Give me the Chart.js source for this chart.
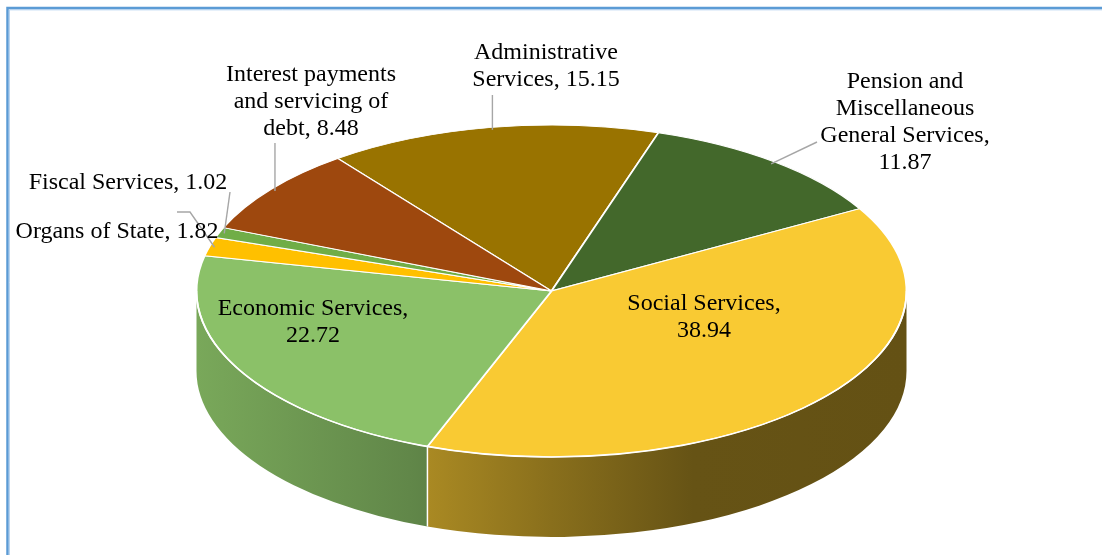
<!DOCTYPE html>
<html>
<head>
<meta charset="utf-8">
<script src="https://cdn.jsdelivr.net/npm/chart.js@4.4.1/dist/chart.umd.min.js"></script>
<style>
  html, body { margin: 0; padding: 0; background: #fff; }
  #wrap { width: 1102px; height: 555px; }
</style>
</head>
<body>
<div id="wrap"><canvas id="pie" width="1102" height="555"></canvas></div>
<script>
// expenditure shares, clockwise from the top
var categories = [
    'Administrative Services',
    'Pension and Miscellaneous General Services',
    'Social Services',
    'Economic Services',
    'Organs of State',
    'Fiscal Services',
    'Interest payments and servicing of debt'
];
var shares = [15.15, 11.87, 38.94, 22.72, 1.82, 1.02, 8.48];
var sliceColors = ['#997300', '#43682b', '#f9ca33', '#8bc168', '#ffc000', '#70ad47', '#9e480e'];

// where the flat pie gets squashed to (tilted disc)
var CX = 551.5, CY = 291, RX = 355, RY = 166, DEPTH = 80;

// label boxes: centre x, first line y, wrap width, leader line
var labelSpots = [
    { x: 546, y: 53, wrap: 155, upTo: 95 },
    { x: 905, y: 82, wrap: 180, lead: [[817, 142]] },
    { x: 704, y: 304, wrap: 175 },
    { x: 313, y: 309, wrap: 205 },
    { x: 117, y: 232, wrap: 400, lead: [[190, 212], [177, 212]] },
    { x: 128, y: 183, wrap: 400, lead: [[230, 192]] },
    { x: 311, y: 75, wrap: 180, upTo: 143 }
];

function shade(hex, f) {
    var n = parseInt(hex.slice(1), 16);
    var r = Math.round(((n >> 16) & 255) * f);
    var g = Math.round(((n >> 8) & 255) * f);
    var b = Math.round((n & 255) * f);
    return 'rgb(' + r + ',' + g + ',' + b + ')';
}

function rimPoint(a, k) {
    k = k || 1;
    return [CX + RX * k * Math.cos(a), CY + RY * k * Math.sin(a)];
}

// pieces of [s, e] that face the viewer (0..PI, lower half)
function frontParts(s, e) {
    var parts = [];
    for (var k = -2; k <= 2; k++) {
        var a0 = Math.max(s + k * 2 * Math.PI, 0);
        var a1 = Math.min(e + k * 2 * Math.PI, Math.PI);
        if (a1 > a0) parts.push([a0, a1]);
    }
    return parts;
}

function wrapText(ctx, text, maxW) {
    var words = text.split(' ');
    var lines = [];
    var cur = '';
    for (var i = 0; i < words.length; i++) {
        var test = cur ? cur + ' ' + words[i] : words[i];
        if (cur && ctx.measureText(test).width > maxW) {
            lines.push(cur);
            cur = words[i];
        } else {
            cur = test;
        }
    }
    lines.push(cur);
    return lines;
}

var pie3d = {
    id: 'pie3d',
    beforeDraw: function (chart) {
        var ctx = chart.ctx;
        ctx.save();
        ctx.strokeStyle = '#5b9bd5';
        ctx.lineWidth = 2.5;
        ctx.beginPath();
        ctx.moveTo(1102, 8);
        ctx.lineTo(7.5, 8);
        ctx.lineTo(7.5, 555);
        ctx.stroke();
        ctx.strokeStyle = '#a9cbed';
        ctx.lineWidth = 1;
        ctx.beginPath();
        ctx.moveTo(1102, 9.8);
        ctx.lineTo(9.3, 9.8);
        ctx.lineTo(9.3, 555);
        ctx.stroke();
        ctx.restore();
    },
    beforeDatasetsDraw: function (chart) {
        var ctx = chart.ctx;
        var arcs = chart.getDatasetMeta(0).data;

        // side walls
        ctx.save();
        arcs.forEach(function (arc, i) {
            var g = ctx.createLinearGradient(CX - RX, 0, CX + RX, 0);
            [[0, 0.87], [0.3, 0.7], [0.5, 0.55], [0.7, 0.41], [1, 0.4]].forEach(function (s) {
                g.addColorStop(s[0], shade(sliceColors[i], s[1]));
            });
            frontParts(arc.startAngle, arc.endAngle).forEach(function (p) {
                ctx.beginPath();
                ctx.ellipse(CX, CY, RX, RY, 0, p[0], p[1], false);
                ctx.lineTo(CX + RX * Math.cos(p[1]), CY + DEPTH + RY * Math.sin(p[1]));
                ctx.ellipse(CX, CY + DEPTH, RX, RY, 0, p[1], p[0], true);
                ctx.closePath();
                ctx.fillStyle = g;
                ctx.fill();
            });
        });
        // seams between walls
        ctx.strokeStyle = '#ffffff';
        ctx.lineWidth = 1.5;
        arcs.forEach(function (arc) {
            var a = arc.endAngle % (2 * Math.PI);
            if (a < 0) a += 2 * Math.PI;
            if (a > 0.01 && a < Math.PI - 0.01) {
                var p = rimPoint(a);
                ctx.beginPath();
                ctx.moveTo(p[0], p[1]);
                ctx.lineTo(p[0], p[1] + DEPTH);
                ctx.stroke();
            }
        });
        ctx.restore();

        // squash the flat pie onto the disc top
        var a0 = arcs[0];
        ctx.save();
        ctx.translate(CX, CY);
        ctx.scale(RX / a0.outerRadius, RY / a0.outerRadius);
        ctx.translate(-a0.x, -a0.y);
    },
    afterDatasetsDraw: function (chart) {
        var ctx = chart.ctx;
        ctx.restore();

        // white rim along the front edge
        ctx.save();
        ctx.strokeStyle = '#ffffff';
        ctx.lineWidth = 1.6;
        ctx.beginPath();
        ctx.ellipse(CX, CY, RX, RY, 0, 0, Math.PI, false);
        ctx.stroke();
        ctx.restore();
    },
    afterDraw: function (chart) {
        var ctx = chart.ctx;
        var arcs = chart.getDatasetMeta(0).data;
        ctx.save();
        ctx.font = '24px "Liberation Serif", "Times New Roman", serif';
        ctx.textAlign = 'center';
        ctx.textBaseline = 'middle';
        arcs.forEach(function (arc, i) {
            var spot = labelSpots[i];
            var mid = (arc.startAngle + arc.endAngle) / 2;
            var anchor = rimPoint(mid, 0.985);
            ctx.strokeStyle = '#a6a6a6';
            ctx.lineWidth = 1.4;
            if (spot.upTo) {
                ctx.beginPath();
                ctx.moveTo(anchor[0], anchor[1]);
                ctx.lineTo(anchor[0], spot.upTo);
                ctx.stroke();
            } else if (spot.lead) {
                ctx.beginPath();
                ctx.moveTo(anchor[0], anchor[1]);
                spot.lead.forEach(function (pt) { ctx.lineTo(pt[0], pt[1]); });
                ctx.stroke();
            }
            var text = chart.data.labels[i] + ', ' + chart.data.datasets[0].data[i];
            var lines = wrapText(ctx, text, spot.wrap);
            ctx.fillStyle = '#000000';
            lines.forEach(function (ln, j) {
                ctx.fillText(ln, spot.x, spot.y + j * 27);
            });
        });
        ctx.restore();
    }
};

new Chart(document.getElementById('pie'), {
    type: 'pie',
    data: {
        labels: categories,
        datasets: [{
            data: shares,
            backgroundColor: sliceColors,
            borderColor: '#ffffff',
            borderWidth: 1.5,
            clip: false
        }]
    },
    options: {
        responsive: false,
        animation: false,
        events: [],
        rotation: -37,
        plugins: {
            legend: { display: false },
            tooltip: { enabled: false }
        }
    },
    plugins: [pie3d]
});
</script>
</body>
</html>
